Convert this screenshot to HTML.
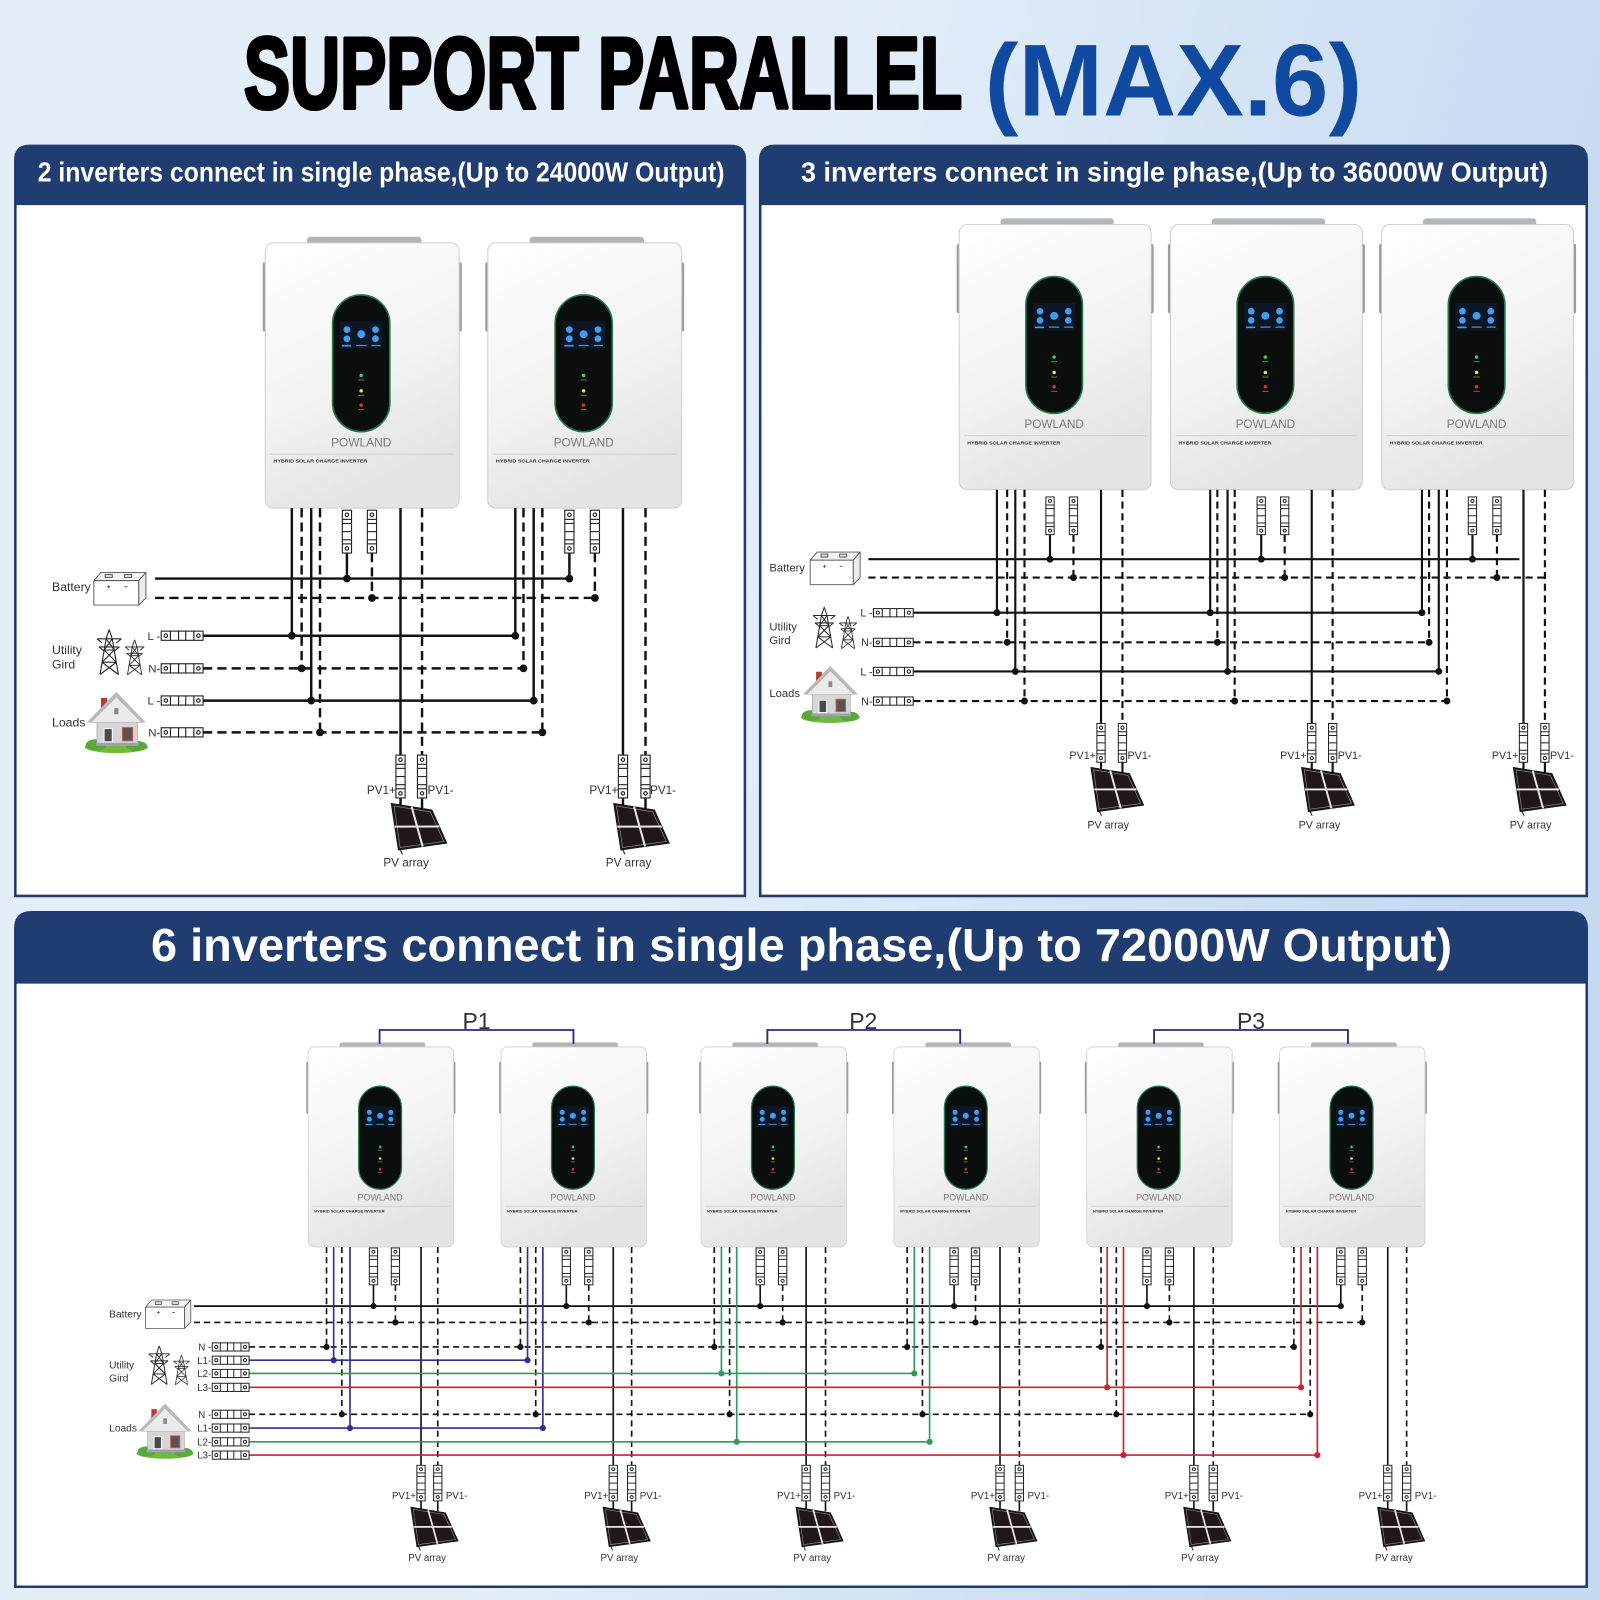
<!DOCTYPE html>
<html><head><meta charset="utf-8"><style>
html,body{margin:0;padding:0;background:#dde9f6;}
svg{display:block;}
.w1{stroke:#111;stroke-width:2.4;fill:none}
.d1{stroke:#111;stroke-width:2.4;fill:none;stroke-dasharray:9 5}
.w2{stroke:#111;stroke-width:2.1;fill:none}
.d2{stroke:#111;stroke-width:2.1;fill:none;stroke-dasharray:7 4.5}
.w3{stroke:#111;stroke-width:1.6;fill:none}
.d3{stroke:#111;stroke-width:1.6;fill:none;stroke-dasharray:6 4}
.bl{stroke:#2b3192;stroke-width:1.6;fill:none}
.gr{stroke:#2f9a5a;stroke-width:1.6;fill:none}
.rd{stroke:#c9232c;stroke-width:1.6;fill:none}
.pw{font-family:"Liberation Sans",sans-serif;font-size:12px;fill:#7a7a7a;text-anchor:middle}
.hy{font-family:"Liberation Sans",sans-serif;font-size:4.6px;font-weight:bold;fill:#333}
.lb{font-family:"Liberation Sans",sans-serif;fill:#333}
.hd{font-family:"Liberation Sans",sans-serif;font-weight:bold;fill:#fff}
</style></head><body>
<svg width="1600" height="1600" viewBox="0 0 1568 1568" xmlns="http://www.w3.org/2000/svg" xmlns:xlink="http://www.w3.org/1999/xlink">
<defs>
<linearGradient id="bg" x1="0" y1="0" x2="1" y2="0.25">
<stop offset="0" stop-color="#e4eef8"/><stop offset="0.5" stop-color="#e3eef9"/><stop offset="1" stop-color="#c5d9f1"/>
</linearGradient>
<linearGradient id="body" x1="0" y1="0" x2="0.35" y2="1">
<stop offset="0" stop-color="#ffffff"/><stop offset="0.6" stop-color="#f3f3f3"/><stop offset="1" stop-color="#e4e4e4"/>
</linearGradient>
<g id="inv">
<rect x="41" y="-6" width="112" height="12" rx="3" fill="#b3b6b9"/>
<rect x="-2.5" y="19" width="6" height="68" rx="2" fill="#9a9da0"/>
<rect x="186.5" y="19" width="6" height="68" rx="2" fill="#9a9da0"/>
<rect x="0" y="0" width="190" height="260" rx="8" fill="url(#body)" stroke="#cfcfcf" stroke-width="1"/>
<rect x="66" y="51" width="56" height="134" rx="28" fill="#0a0e0d" stroke="#1f7a4f" stroke-width="1.6"/>
<rect x="73" y="77" width="42" height="27" fill="#0b1626"/>
<circle cx="80" cy="85" r="3.3" fill="#3f9ef0"/>
<circle cx="80" cy="94" r="3.3" fill="#3f9ef0"/>
<circle cx="94" cy="89.5" r="3.9" fill="#3f9ef0"/>
<circle cx="108" cy="85" r="3.3" fill="#3f9ef0"/>
<circle cx="108" cy="94" r="3.3" fill="#3f9ef0"/>
<rect x="75" y="100" width="9" height="1.6" fill="#3f9ef0"/>
<rect x="89" y="100" width="10" height="1.2" fill="#6a8fb0"/>
<rect x="104" y="100" width="9" height="1.2" fill="#6a8fb0"/>
<circle cx="94" cy="130" r="1.7" fill="#2fd36b"/>
<rect x="91" y="134" width="6" height="0.9" fill="#777"/>
<circle cx="94" cy="145" r="1.7" fill="#f0e33a"/>
<rect x="91" y="149" width="6" height="0.9" fill="#777"/>
<circle cx="94" cy="159" r="1.7" fill="#e3322f"/>
<rect x="91" y="163" width="6" height="0.9" fill="#777"/>
<line x1="5" y1="207" x2="185" y2="207" stroke="#cdcdcd" stroke-width="1"/>
</g>
<g id="vb" fill="#fff" stroke="#222" stroke-width="1.1">
<rect x="-4.5" y="0" width="9" height="42"/>
<line x1="-4.5" y1="9" x2="4.5" y2="9"/>
<line x1="-4.5" y1="13" x2="4.5" y2="13"/>
<line x1="-4.5" y1="21" x2="4.5" y2="21"/>
<line x1="-4.5" y1="29" x2="4.5" y2="29"/>
<line x1="-4.5" y1="33" x2="4.5" y2="33"/>
<circle cx="0" cy="4.5" r="1.7"/>
<circle cx="0" cy="37.5" r="1.7"/>
</g>
<g id="hb" fill="#fff" stroke="#222" stroke-width="1.1">
<rect x="0" y="0" width="41" height="9"/>
<line x1="9" y1="0" x2="9" y2="9"/>
<line x1="17" y1="0" x2="17" y2="9"/>
<line x1="24" y1="0" x2="24" y2="9"/>
<line x1="32" y1="0" x2="32" y2="9"/>
<circle cx="4.5" cy="4.5" r="1.7"/>
<circle cx="36.5" cy="4.5" r="1.7"/>
</g>
<g id="pv">
<polygon points="0,0 40,6.5 54.5,39 7,45.7" fill="#201818" stroke="#111" stroke-width="0.8"/>
<polygon points="2.8,2.6 38.3,8.3 51.5,37.3 8.7,43.2" fill="none" stroke="#8a8a8a" stroke-width="0.7"/>
<line x1="20" y1="3.3" x2="30.8" y2="42.3" stroke="#e8e8e8" stroke-width="2"/>
<line x1="3.5" y1="22.8" x2="47.2" y2="22.7" stroke="#e8e8e8" stroke-width="2"/>
<line x1="9" y1="45.5" x2="11" y2="50" stroke="#333" stroke-width="1.2"/>
</g>
<g id="tower" fill="none" stroke="#2a2a2a" stroke-width="1.1" stroke-linejoin="round">
<path d="M14 0 L11 9 L5 44 M14 0 L17 9 L23 44"/>
<path d="M2 9 H26 M2 9 L7 13 M26 9 L21 13 M4 17 H24 M4 17 L9 21 M24 17 L19 21"/>
<path d="M11 9 L19 20 M17 9 L9 20 M9 20 H19 M9 20 L21 32 M19 20 L7 32 M7 32 H21 M7 32 L23 44 M21 32 L5 44"/>
</g>
<g id="batt" stroke="#555" stroke-width="0.9" stroke-linejoin="round">
<polygon points="0,8 7,0 51,0 44,8" fill="#f4f4f4"/>
<rect x="0" y="8" width="44" height="24" fill="#fff"/>
<polygon points="44,8 51,0 51,25 44,32" fill="#ececec"/>
<rect x="11" y="2" width="7" height="3" fill="#ddd"/>
<rect x="30" y="2" width="7" height="3" fill="#ddd"/>
<path d="M13 14 h3 M14.5 12.5 v3 M30 14 h3" stroke="#555"/>
</g>
<g id="house">
<ellipse cx="32" cy="58" rx="31" ry="6" fill="#72b83f"/>
<ellipse cx="12" cy="56" rx="10" ry="5.5" fill="#5aa83a"/>
<ellipse cx="52" cy="57" rx="10" ry="5" fill="#5aa83a"/>
<rect x="13" y="30" width="40" height="25" fill="#d6d6d6" stroke="#a0a0a0" stroke-width="0.6"/>
<rect x="17" y="10" width="6" height="14" fill="#b8392e"/>
<polygon points="3,34 32,4 61,34 57,34 32,9 7,34" fill="#b9b9b9"/>
<polygon points="7,34 32,9 57,34" fill="#ebebeb" stroke="#b0b0b0" stroke-width="0.6"/>
<rect x="20" y="40" width="8" height="13" fill="#4a4a4a" stroke="#fff" stroke-width="1"/>
<rect x="38" y="39" width="10" height="13" fill="#555" stroke="#d9534f" stroke-width="1"/>
<rect x="30" y="20" width="4" height="6" fill="#888"/>
<rect x="12" y="54" width="42" height="3" fill="#9aa0b5"/>
</g>
</defs>

<rect x="0" y="0" width="1568" height="1568" fill="url(#bg)"/>

<!-- TITLE -->
<text x="239" y="106" font-family="Liberation Sans Narrow, Liberation Sans, sans-serif" font-weight="bold" font-size="99" fill="#000" stroke="#000" stroke-width="4" stroke-linejoin="round" textLength="704" lengthAdjust="spacingAndGlyphs">SUPPORT PARALLEL</text>
<text x="965" y="113" font-family="Liberation Sans, sans-serif" font-weight="bold" font-size="100" fill="#0f4aa0" textLength="370" lengthAdjust="spacingAndGlyphs">(MAX.6)</text>

<!-- PANEL FRAMES -->
<path d="M15 157 Q15 143 29 143 H716 Q730 143 730 157 V878 H15 Z" fill="#fff" stroke="#1f3d70" stroke-width="2.5"/>
<path d="M15 157 Q15 143 29 143 H716 Q730 143 730 157 V201 H15 Z" fill="#1f3d70"/>
<path d="M745 157 Q745 143 759 143 H1541 Q1555 143 1555 157 V878 H745 Z" fill="#fff" stroke="#1f3d70" stroke-width="2.5"/>
<path d="M745 157 Q745 143 759 143 H1541 Q1555 143 1555 157 V201 H745 Z" fill="#1f3d70"/>
<path d="M15 910 Q15 894 31 894 H1539 Q1555 894 1555 910 V1555 H15 Z" fill="#fff" stroke="#1f3d70" stroke-width="2.5"/>
<path d="M15 910 Q15 894 31 894 H1539 Q1555 894 1555 910 V964 H15 Z" fill="#1f3d70"/>

<text class="hd" x="37" y="178" font-size="27" textLength="673" lengthAdjust="spacingAndGlyphs">2 inverters connect in single phase,(Up to 24000W Output)</text>
<text class="hd" x="785" y="178" font-size="27" textLength="732" lengthAdjust="spacingAndGlyphs">3 inverters connect in single phase,(Up to 36000W Output)</text>
<text class="hd" x="148" y="942" font-size="45" textLength="1275" lengthAdjust="spacingAndGlyphs">6 inverters connect in single phase,(Up to 72000W Output)</text>

<!-- ===== PANEL 1 ===== -->
<g transform="translate(260,238)"><use href="#inv"/><text class="pw" x="94" y="199.5" textLength="59" lengthAdjust="spacingAndGlyphs">POWLAND</text><text class="hy" x="8" y="215.5" textLength="92" lengthAdjust="spacingAndGlyphs">HYBRID SOLAR CHARGE INVERTER</text></g>
<g transform="translate(478,238)"><use href="#inv"/><text class="pw" x="94" y="199.5" textLength="59" lengthAdjust="spacingAndGlyphs">POWLAND</text><text class="hy" x="8" y="215.5" textLength="92" lengthAdjust="spacingAndGlyphs">HYBRID SOLAR CHARGE INVERTER</text></g>

<path class="w1" d="M286 498V623M305 498V686.6M340 542V567M392.5 498V740M392.5 781V790M505 498V623M523 498V686.6M558 542V567M610.5 498V740M610.5 781V790M413.6 781V794M632.6 781V794"/>
<path class="w1" d="M152 567H558M199 623H505M199 686.6H523"/>
<path class="d1" d="M295.6 498V655M313.6 498V717.7M364.5 542V586M413.6 498V740M513 498V655M531.5 498V717.7M583 542V586M632.6 498V740"/>
<path class="d1" d="M152 586H583M199 655H513M199 717.7H531.5"/>
<g fill="#111">
<circle cx="340" cy="567" r="3.8"/><circle cx="558" cy="567" r="3.8"/>
<circle cx="364.5" cy="586" r="3.8"/><circle cx="583" cy="586" r="3.8"/>
<circle cx="286" cy="623" r="3.8"/><circle cx="505" cy="623" r="3.8"/>
<circle cx="295.6" cy="655" r="3.8"/><circle cx="513" cy="655" r="3.8"/>
<circle cx="305" cy="686.6" r="3.8"/><circle cx="523" cy="686.6" r="3.8"/>
<circle cx="313.6" cy="717.7" r="3.8"/><circle cx="531.5" cy="717.7" r="3.8"/>
</g>
<use href="#vb" x="340" y="500"/><use href="#vb" x="364.5" y="500"/>
<use href="#vb" x="558" y="500"/><use href="#vb" x="583" y="500"/>
<use href="#vb" x="392.5" y="740"/><use href="#vb" x="413.6" y="740"/>
<use href="#vb" x="610.5" y="740"/><use href="#vb" x="632.6" y="740"/>
<use href="#hb" x="158" y="618.5"/><use href="#hb" x="158" y="650.5"/>
<use href="#hb" x="158" y="682"/><use href="#hb" x="158" y="713.2"/>
<g class="lb" font-size="11" text-anchor="end">
<text x="157" y="627">L -</text><text x="157" y="659">N-</text>
<text x="157" y="690.6">L -</text><text x="157" y="721.7">N-</text>
</g>
<use href="#batt" x="92" y="561"/>
<use href="#tower" x="93" y="617"/>
<use href="#tower" transform="translate(121,627) scale(0.78)"/>
<use href="#house" x="82" y="674"/>
<g class="lb" font-size="12">
<text x="51" y="579">Battery</text>
<text x="51" y="641">Utility</text>
<text x="51" y="655">Gird</text>
<text x="51" y="712">Loads</text>
</g>
<use href="#pv" x="383.4" y="787.3"/>
<use href="#pv" x="601.4" y="787.3"/>
<g class="lb" font-size="11.5">
<text x="388" y="778" text-anchor="end">PV1+</text><text x="419" y="778">PV1-</text>
<text x="606" y="778" text-anchor="end">PV1+</text><text x="637" y="778">PV1-</text>
<text x="398" y="849" text-anchor="middle">PV array</text>
<text x="616" y="849" text-anchor="middle">PV array</text>
</g>

<!-- ===== PANEL 2 ===== -->
<g transform="translate(940,220) scale(0.99,1)"><use href="#inv"/><text class="pw" x="94" y="199.5" textLength="59" lengthAdjust="spacingAndGlyphs">POWLAND</text><text class="hy" x="8" y="215.5" textLength="92" lengthAdjust="spacingAndGlyphs">HYBRID SOLAR CHARGE INVERTER</text></g>
<g transform="translate(1147,220) scale(0.99,1)"><use href="#inv"/><text class="pw" x="94" y="199.5" textLength="59" lengthAdjust="spacingAndGlyphs">POWLAND</text><text class="hy" x="8" y="215.5" textLength="92" lengthAdjust="spacingAndGlyphs">HYBRID SOLAR CHARGE INVERTER</text></g>
<g transform="translate(1354,220) scale(0.99,1)"><use href="#inv"/><text class="pw" x="94" y="199.5" textLength="59" lengthAdjust="spacingAndGlyphs">POWLAND</text><text class="hy" x="8" y="215.5" textLength="92" lengthAdjust="spacingAndGlyphs">HYBRID SOLAR CHARGE INVERTER</text></g>

<path class="w2" d="M977 480V600.4M995 480V658M1029 524V548M1079 480V709M1079 747V754M1186 480V600.4M1203 480V658M1236 524V548M1285.5 480V709M1285.5 747V754M1393.5 480V600.4M1410 480V658M1443 524V548M1493 480V709M1493 747V754M1100 747V757M1306 747V757M1514 747V757"/>
<path class="w2" d="M851 548H1489M895 600.4H1393.5M895 658H1410"/>
<path class="d2" d="M987 480V629.5M1004 480V687M1052 524V566M1100 480V709M1193 480V629.5M1210 480V687M1259 524V566M1306 480V709M1400.5 480V629.5M1418 480V687M1467 524V566M1514 480V709"/>
<path class="d2" d="M851 566H1514M895 629.5H1400.5M895 687H1418"/>
<g fill="#111">
<circle cx="1029" cy="548" r="3.4"/><circle cx="1236" cy="548" r="3.4"/><circle cx="1443" cy="548" r="3.4"/>
<circle cx="1052" cy="566" r="3.4"/><circle cx="1259" cy="566" r="3.4"/><circle cx="1467" cy="566" r="3.4"/>
<circle cx="977" cy="600.4" r="3.4"/><circle cx="1186" cy="600.4" r="3.4"/><circle cx="1393.5" cy="600.4" r="3.4"/>
<circle cx="987" cy="629.5" r="3.4"/><circle cx="1193" cy="629.5" r="3.4"/><circle cx="1400.5" cy="629.5" r="3.4"/>
<circle cx="995" cy="658" r="3.4"/><circle cx="1203" cy="658" r="3.4"/><circle cx="1410" cy="658" r="3.4"/>
<circle cx="1004" cy="687" r="3.4"/><circle cx="1210" cy="687" r="3.4"/><circle cx="1418" cy="687" r="3.4"/>
</g>
<use href="#vb" transform="translate(1029,487) scale(0.9,0.88)"/><use href="#vb" transform="translate(1052,487) scale(0.9,0.88)"/>
<use href="#vb" transform="translate(1236,487) scale(0.9,0.88)"/><use href="#vb" transform="translate(1259,487) scale(0.9,0.88)"/>
<use href="#vb" transform="translate(1443,487) scale(0.9,0.88)"/><use href="#vb" transform="translate(1467,487) scale(0.9,0.88)"/>
<use href="#vb" transform="translate(1079,709) scale(0.9,0.905)"/><use href="#vb" transform="translate(1100,709) scale(0.9,0.905)"/>
<use href="#vb" transform="translate(1285.5,709) scale(0.9,0.905)"/><use href="#vb" transform="translate(1306,709) scale(0.9,0.905)"/>
<use href="#vb" transform="translate(1493,709) scale(0.9,0.905)"/><use href="#vb" transform="translate(1514,709) scale(0.9,0.905)"/>
<use href="#hb" transform="translate(856,596.4) scale(0.95,0.9)"/>
<use href="#hb" transform="translate(856,625.5) scale(0.95,0.9)"/>
<use href="#hb" transform="translate(856,654) scale(0.95,0.9)"/>
<use href="#hb" transform="translate(856,683) scale(0.95,0.9)"/>
<g class="lb" font-size="10.5" text-anchor="end">
<text x="855" y="604">L -</text><text x="855" y="633">N-</text>
<text x="855" y="662">L -</text><text x="855" y="691">N-</text>
</g>
<use href="#batt" transform="translate(794,541) scale(0.96,1)"/>
<use href="#tower" transform="translate(795,595) scale(0.91)"/>
<use href="#tower" transform="translate(821,604) scale(0.72)"/>
<use href="#house" transform="translate(784,649) scale(0.93)"/>
<g class="lb" font-size="11">
<text x="754" y="560">Battery</text>
<text x="754" y="618">Utility</text>
<text x="754" y="631">Gird</text>
<text x="754" y="683">Loads</text>
</g>
<use href="#pv" transform="translate(1069,752) scale(0.95)"/>
<use href="#pv" transform="translate(1275.5,752) scale(0.95)"/>
<use href="#pv" transform="translate(1483,752) scale(0.95)"/>
<g class="lb" font-size="10.5">
<text x="1074" y="744" text-anchor="end">PV1+</text><text x="1105" y="744">PV1-</text>
<text x="1280.5" y="744" text-anchor="end">PV1+</text><text x="1311" y="744">PV1-</text>
<text x="1488" y="744" text-anchor="end">PV1+</text><text x="1519" y="744">PV1-</text>
<text x="1086" y="812" text-anchor="middle">PV array</text>
<text x="1293" y="812" text-anchor="middle">PV array</text>
<text x="1500" y="812" text-anchor="middle">PV array</text>
</g>

<!-- ===== PANEL 3 ===== -->
<g transform="translate(302,1026) scale(0.75,0.754)"><use href="#inv"/><text class="pw" x="94" y="199.5" textLength="59" lengthAdjust="spacingAndGlyphs">POWLAND</text><text class="hy" x="8" y="215.5" textLength="92" lengthAdjust="spacingAndGlyphs">HYBRID SOLAR CHARGE INVERTER</text></g>
<g transform="translate(491,1026) scale(0.75,0.754)"><use href="#inv"/><text class="pw" x="94" y="199.5" textLength="59" lengthAdjust="spacingAndGlyphs">POWLAND</text><text class="hy" x="8" y="215.5" textLength="92" lengthAdjust="spacingAndGlyphs">HYBRID SOLAR CHARGE INVERTER</text></g>
<g transform="translate(687,1026) scale(0.75,0.754)"><use href="#inv"/><text class="pw" x="94" y="199.5" textLength="59" lengthAdjust="spacingAndGlyphs">POWLAND</text><text class="hy" x="8" y="215.5" textLength="92" lengthAdjust="spacingAndGlyphs">HYBRID SOLAR CHARGE INVERTER</text></g>
<g transform="translate(876,1026) scale(0.75,0.754)"><use href="#inv"/><text class="pw" x="94" y="199.5" textLength="59" lengthAdjust="spacingAndGlyphs">POWLAND</text><text class="hy" x="8" y="215.5" textLength="92" lengthAdjust="spacingAndGlyphs">HYBRID SOLAR CHARGE INVERTER</text></g>
<g transform="translate(1065,1026) scale(0.75,0.754)"><use href="#inv"/><text class="pw" x="94" y="199.5" textLength="59" lengthAdjust="spacingAndGlyphs">POWLAND</text><text class="hy" x="8" y="215.5" textLength="92" lengthAdjust="spacingAndGlyphs">HYBRID SOLAR CHARGE INVERTER</text></g>
<g transform="translate(1254,1026) scale(0.75,0.754)"><use href="#inv"/><text class="pw" x="94" y="199.5" textLength="59" lengthAdjust="spacingAndGlyphs">POWLAND</text><text class="hy" x="8" y="215.5" textLength="92" lengthAdjust="spacingAndGlyphs">HYBRID SOLAR CHARGE INVERTER</text></g>

<!-- P brackets -->
<path d="M372 1023V1009.4H562V1023M752 1023V1009.4H941V1023M1131 1023V1009.4H1321V1023" fill="none" stroke="#2a2c78" stroke-width="1.8"/>
<g class="lb" font-size="22.5" fill="#222" text-anchor="middle">
<text x="467" y="1008.5">P1</text>
<text x="846" y="1008.5">P2</text>
<text x="1226" y="1008.5">P3</text>
</g>

<path class="w3" d="M366 1259V1280M555 1259V1280M745 1259V1280M935 1259V1280M1124 1259V1280M1314 1259V1280M412.6 1222V1436M601 1222V1436M790 1222V1436M980 1222V1436M1170 1222V1436M1360 1222V1436M412.6 1471V1479M601 1471V1479M790 1471V1479M980 1471V1479M1170 1471V1479M1360 1471V1479M429 1471V1481M619 1471V1481M809 1471V1481M999 1471V1481M1189 1471V1481M1378.5 1471V1481M190 1280H1314"/>
<path class="d3" d="M320 1222V1320M510 1222V1320M700 1222V1320M889 1222V1320M1079 1222V1320M1268 1222V1320M335 1222V1386M525 1222V1386M715 1222V1386M904 1222V1386M1094 1222V1386M1284 1222V1386M387.5 1259V1296M577 1259V1296M767 1259V1296M956 1259V1296M1146 1259V1296M1335 1259V1296M429 1222V1436M619 1222V1436M809 1222V1436M999 1222V1436M1189 1222V1436M1378.5 1222V1436M190 1296H1335M244 1320H1268M244 1386H1284"/>
<path class="bl" d="M327 1222V1333M343 1222V1399.5M517 1222V1333M532 1222V1399.5M244 1333H517M244 1399.5H532"/>
<path class="gr" d="M707 1222V1346M722 1222V1413M896 1222V1346M911 1222V1413M244 1346H896M244 1413H911"/>
<path class="rd" d="M1085 1222V1359.6M1101 1222V1426M1275 1222V1359.6M1291 1222V1426M244 1359.6H1275M244 1426H1291"/>
<g fill="#111">
<circle cx="366" cy="1280" r="3"/><circle cx="555" cy="1280" r="3"/><circle cx="745" cy="1280" r="3"/><circle cx="935" cy="1280" r="3"/><circle cx="1124" cy="1280" r="3"/><circle cx="1314" cy="1280" r="3"/>
<circle cx="387.5" cy="1296" r="3"/><circle cx="577" cy="1296" r="3"/><circle cx="767" cy="1296" r="3"/><circle cx="956" cy="1296" r="3"/><circle cx="1146" cy="1296" r="3"/><circle cx="1335" cy="1296" r="3"/>
<circle cx="320" cy="1320" r="3"/><circle cx="510" cy="1320" r="3"/><circle cx="700" cy="1320" r="3"/><circle cx="889" cy="1320" r="3"/><circle cx="1079" cy="1320" r="3"/><circle cx="1268" cy="1320" r="3"/>
<circle cx="335" cy="1386" r="3"/><circle cx="525" cy="1386" r="3"/><circle cx="715" cy="1386" r="3"/><circle cx="904" cy="1386" r="3"/><circle cx="1094" cy="1386" r="3"/><circle cx="1284" cy="1386" r="3"/>
</g>
<g fill="#2b3192"><circle cx="327" cy="1333" r="3"/><circle cx="517" cy="1333" r="3"/><circle cx="343" cy="1399.5" r="3"/><circle cx="532" cy="1399.5" r="3"/></g>
<g fill="#2f9a5a"><circle cx="707" cy="1346" r="3"/><circle cx="896" cy="1346" r="3"/><circle cx="722" cy="1413" r="3"/><circle cx="911" cy="1413" r="3"/></g>
<g fill="#c9232c"><circle cx="1085" cy="1359.6" r="3"/><circle cx="1275" cy="1359.6" r="3"/><circle cx="1101" cy="1426" r="3"/><circle cx="1291" cy="1426" r="3"/></g>

<use href="#vb" transform="translate(366,1223) scale(0.9,0.86)"/><use href="#vb" transform="translate(387.5,1223) scale(0.9,0.86)"/>
<use href="#vb" transform="translate(555,1223) scale(0.9,0.86)"/><use href="#vb" transform="translate(577,1223) scale(0.9,0.86)"/>
<use href="#vb" transform="translate(745,1223) scale(0.9,0.86)"/><use href="#vb" transform="translate(767,1223) scale(0.9,0.86)"/>
<use href="#vb" transform="translate(935,1223) scale(0.9,0.86)"/><use href="#vb" transform="translate(956,1223) scale(0.9,0.86)"/>
<use href="#vb" transform="translate(1124,1223) scale(0.9,0.86)"/><use href="#vb" transform="translate(1146,1223) scale(0.9,0.86)"/>
<use href="#vb" transform="translate(1314,1223) scale(0.9,0.86)"/><use href="#vb" transform="translate(1335,1223) scale(0.9,0.86)"/>
<use href="#vb" transform="translate(412.6,1436) scale(0.9,0.83)"/><use href="#vb" transform="translate(429,1436) scale(0.9,0.83)"/>
<use href="#vb" transform="translate(601,1436) scale(0.9,0.83)"/><use href="#vb" transform="translate(619,1436) scale(0.9,0.83)"/>
<use href="#vb" transform="translate(790,1436) scale(0.9,0.83)"/><use href="#vb" transform="translate(809,1436) scale(0.9,0.83)"/>
<use href="#vb" transform="translate(980,1436) scale(0.9,0.83)"/><use href="#vb" transform="translate(999,1436) scale(0.9,0.83)"/>
<use href="#vb" transform="translate(1170,1436) scale(0.9,0.83)"/><use href="#vb" transform="translate(1189,1436) scale(0.9,0.83)"/>
<use href="#vb" transform="translate(1360,1436) scale(0.9,0.83)"/><use href="#vb" transform="translate(1378.5,1436) scale(0.9,0.83)"/>

<use href="#hb" transform="translate(208,1316) scale(0.88,0.89)"/>
<use href="#hb" transform="translate(208,1329) scale(0.88,0.89)"/>
<use href="#hb" transform="translate(208,1342) scale(0.88,0.89)"/>
<use href="#hb" transform="translate(208,1355.6) scale(0.88,0.89)"/>
<use href="#hb" transform="translate(208,1382) scale(0.88,0.89)"/>
<use href="#hb" transform="translate(208,1395.5) scale(0.88,0.89)"/>
<use href="#hb" transform="translate(208,1409) scale(0.88,0.89)"/>
<use href="#hb" transform="translate(208,1422) scale(0.88,0.89)"/>
<g class="lb" font-size="9.5" text-anchor="end">
<text x="207" y="1323.5">N -</text><text x="207" y="1336.5">L1-</text><text x="207" y="1349.5">L2-</text><text x="207" y="1363">L3-</text>
<text x="207" y="1389.5">N -</text><text x="207" y="1403">L1-</text><text x="207" y="1416.5">L2-</text><text x="207" y="1429.5">L3-</text>
</g>
<use href="#batt" transform="translate(142.6,1274) scale(0.87)"/>
<use href="#tower" transform="translate(144,1319) scale(0.86)"/>
<use href="#tower" transform="translate(168.6,1328) scale(0.66)"/>
<use href="#house" transform="translate(133,1372) scale(0.9)"/>
<g class="lb" font-size="10">
<text x="107" y="1291">Battery</text>
<text x="107" y="1341">Utility</text>
<text x="107" y="1354">Gird</text>
<text x="107" y="1403">Loads</text>
</g>
<use href="#pv" transform="translate(402.6,1477) scale(0.85)"/>
<use href="#pv" transform="translate(591,1477) scale(0.85)"/>
<use href="#pv" transform="translate(780,1477) scale(0.85)"/>
<use href="#pv" transform="translate(970,1477) scale(0.85)"/>
<use href="#pv" transform="translate(1160,1477) scale(0.85)"/>
<use href="#pv" transform="translate(1350,1477) scale(0.85)"/>
<g class="lb" font-size="9.5">
<text x="407.6" y="1469" text-anchor="end">PV1+</text><text x="437" y="1469">PV1-</text>
<text x="596" y="1469" text-anchor="end">PV1+</text><text x="627" y="1469">PV1-</text>
<text x="785" y="1469" text-anchor="end">PV1+</text><text x="817" y="1469">PV1-</text>
<text x="975" y="1469" text-anchor="end">PV1+</text><text x="1007" y="1469">PV1-</text>
<text x="1165" y="1469" text-anchor="end">PV1+</text><text x="1197" y="1469">PV1-</text>
<text x="1355" y="1469" text-anchor="end">PV1+</text><text x="1386.5" y="1469">PV1-</text>
<text x="418.6" y="1530" text-anchor="middle">PV array</text>
<text x="607" y="1530" text-anchor="middle">PV array</text>
<text x="796" y="1530" text-anchor="middle">PV array</text>
<text x="986" y="1530" text-anchor="middle">PV array</text>
<text x="1176" y="1530" text-anchor="middle">PV array</text>
<text x="1366" y="1530" text-anchor="middle">PV array</text>
</g>
</svg>
</body></html>
